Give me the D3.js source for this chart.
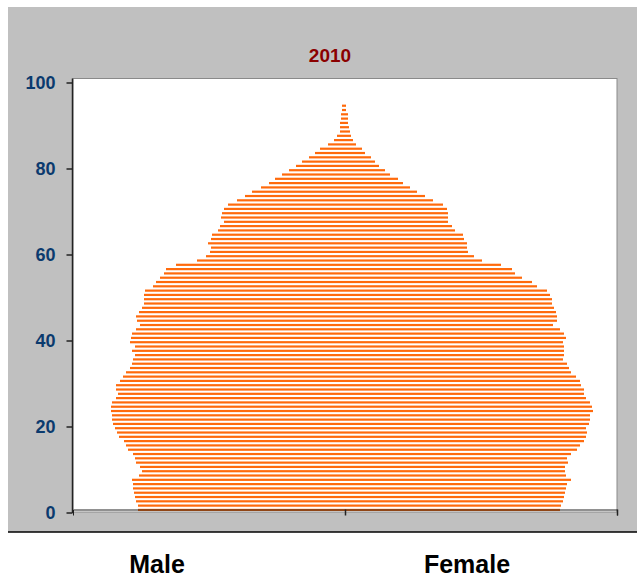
<!DOCTYPE html>
<html>
<head>
<meta charset="utf-8">
<script src="https://cdn.jsdelivr.net/npm/d3@7"></script>
<style>
  body { margin: 0; background: #fff; }
  text { font-family: "Liberation Sans", Arial, sans-serif; font-weight: bold; }
</style>
</head>
<body>
<script>
// population by single year of age, 0..94 (units)
var ages = d3.range(0, 95);
var male = [207,207,209,210,211,212,212,213,206,203,
            205,209,210,212,217,219,221,226,228,230,
            232,233,233,234,234,233,229,227,229,229,
            225,222,219,215,213,212,210,213,210,215,
            214,213,209,205,208,209,206,203,201,201,
            201,200,192,189,185,181,179,169,148,139,
            135,134,137,134,133,127,125,121,124,123,
            121,117,108,100,93,84,76,70,63,56,
            49,43,36,30,25,17,11,8,5,5,
            5,4,4,3,3];
var female = [215,216,218,219,220,221,222,226,221,220,
              220,223,222,226,232,235,239,241,242,241,
              244,245,245,248,247,245,241,239,239,236,
              235,231,226,224,222,218,219,219,219,218,
              221,219,215,208,212,212,211,209,207,207,
              205,202,192,187,177,170,167,156,137,129,
              123,122,122,119,118,110,107,103,103,103,
              102,98,88,80,72,65,58,53,45,40,
              34,30,26,20,17,11,8,6,5,4,
              3,3,3,1,1];
var yTicks = [0, 20, 40, 60, 80, 100];
var title = "2010";
var sexLabels = ["Male", "Female"];

var W = 637, H = 579;
var plot = {left: 73, right: 617, top: 78.5, bottom: 512};

var svg = d3.select("body").append("svg")
    .attr("width", W)
    .attr("height", H);

// grey chart panel
svg.append("rect")
    .attr("x", 8).attr("y", 7)
    .attr("width", W - 8).attr("height", 525)
    .attr("fill", "#c0c0c0");
svg.append("line")
    .attr("x1", 8).attr("x2", W)
    .attr("y1", 532).attr("y2", 532)
    .attr("stroke", "#000").attr("stroke-width", 1.5);

// plot area
svg.append("rect")
    .attr("x", plot.left).attr("y", plot.top)
    .attr("width", plot.right - plot.left)
    .attr("height", plot.bottom - plot.top)
    .attr("fill", "#fff")
    .attr("stroke", "#8a8a8a");

var x = d3.scaleLinear()
    .domain([-272, 272])
    .range([plot.left, plot.right]);

var y = d3.scaleLinear()
    .domain([0, 100])
    .range([512.5, 82.5]);

// bars
svg.append("g").selectAll("rect")
    .data(ages)
    .enter().append("rect")
    .attr("x", function(a){ return x(-male[a]); })
    .attr("width", function(a){ return x(female[a]) - x(-male[a]); })
    .attr("y", function(a){ return y(a + 0.6) - 1.1; })
    .attr("height", 2.2)
    .attr("fill", "#ff6a0c");

// x axis (no labels)
var xAxis = svg.append("g")
    .attr("transform", "translate(0,509.5)")
    .call(d3.axisBottom(x).tickValues([0, 272]).tickSize(6).tickFormat(""));
xAxis.select(".domain").attr("stroke", "#222");
xAxis.selectAll(".tick line").attr("stroke", "#222").attr("stroke-width", 1.5);

// y axis
var yAxis = svg.append("g")
    .attr("transform", "translate(72.5,0)")
    .call(d3.axisLeft(y).tickValues(yTicks).tickSize(6).tickPadding(11));
yAxis.select(".domain")
    .attr("d", "M0," + plot.top + "V513")
    .attr("stroke", "#222").attr("stroke-width", 1.5);
yAxis.selectAll(".tick line").attr("stroke", "#222").attr("stroke-width", 1.5);
yAxis.selectAll(".tick text")
    .attr("fill", "#0b3a6e")
    .style("font-size", "18px")
    .style("font-family", "'Liberation Sans', Arial, sans-serif")
    .style("font-weight", "bold");

// title
svg.append("text")
    .attr("x", 330).attr("y", 62)
    .attr("text-anchor", "middle")
    .attr("fill", "#8b0000")
    .style("font-size", "19px")
    .text(title);

// sex labels
svg.selectAll(".sex")
    .data(sexLabels)
    .enter().append("text")
    .attr("class", "sex")
    .attr("x", function(d, i){ return i === 0 ? 157 : 467; })
    .attr("y", 573)
    .attr("text-anchor", "middle")
    .attr("fill", "#000")
    .style("font-size", "25px")
    .text(function(d){ return d; });
</script>
</body>
</html>
